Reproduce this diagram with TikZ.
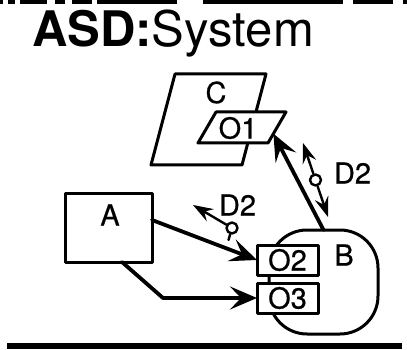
\documentclass[tikz,border=0pt]{standalone}
\usepackage{fontspec}
\setmainfont{TeX Gyre Heros}
\newfontfamily\lblfont[FakeBold=0.6]{TeX Gyre Heros}
\usetikzlibrary{arrows.meta,calc}
\begin{document}
\begin{tikzpicture}[x=1pt,y=-1pt,line join=round,line cap=round,
    box/.style={draw,line width=3pt,inner sep=0pt,outer sep=0pt},
    txt/.style={inner sep=0pt,font=\lblfont\fontsize{29}{31}\selectfont},
    big/.style={line width=3.8pt,-{Stealth[length=27pt,width=23pt,inset=11pt]}},
    flow/.style={line width=2.4pt,-{Stealth[length=20pt,width=14pt,inset=7pt]}},
    dot/.style={circle,draw,line width=2.4pt,minimum size=11pt,inner sep=0pt,fill=white}]
    \useasboundingbox (0,0) rectangle (407,350);
    % frame
    \foreach \s/\e in {0/3,8/15,20/47,55/65,72/92,97/177,203/343,353/393,403/407}
        \draw[line width=4pt,line cap=butt] (\s,2) -- (\e,2);
    \draw[line width=5.5pt,line cap=butt] (7,346) -- (402,346);
    \node[anchor=base west,inner sep=0pt,font=\fontsize{49}{51}\selectfont] (title) at (32,47) {\textbf{ASD:}System};
    % C with port O1
    \coordinate (C1) at (175,74);
    \coordinate (C2) at (266,74);
    \coordinate (C3) at (242,165);
    \coordinate (C4) at (151,165);
    \draw[line width=3pt] (C1) -- (C2) -- (C3) -- (C4) -- cycle;
    \node[txt] (C) at (216,92.5) {C};
    \coordinate (O1a) at (216,112);
    \coordinate (O1b) at (286,112);
    \coordinate (O1c) at (268,143);
    \coordinate (O1d) at (198,143);
    \draw[line width=3pt,fill=white] (O1a) -- (O1b) -- (O1c) -- (O1d) -- cycle;
    \coordinate (O1r) at ($(O1b)!.7!(O1c)$);
    \node[txt] (O1) at (238,128) {O1};
    % A
    \node[box,minimum width=87pt,minimum height=69pt] (A) at (108.5,227.5) {};
    \node[txt] (Alabel) at ([xshift=1.5pt,yshift=12.5pt]A.center) {A};
    % B with ports O2, O3
    \node[box,rounded corners=38pt,minimum width=109pt,minimum height=104pt] (B) at (323.5,282) {};
    \node[txt] (Blabel) at ([xshift=20.5pt,yshift=27pt]B.center) {B};
    \node[box,fill=white,minimum width=61pt,minimum height=30pt,txt] (O2) at (287.5,260) {O2};
    \node[box,fill=white,minimum width=61pt,minimum height=30pt,txt] (O3) at (287.5,298) {O3};
    % connectors
    \draw[big] ([yshift=7.5pt]A.east) -- (O2.west);
    \draw[big] ([xshift=13.5pt]A.south) -- ([xshift=-94pt]O3.west) -- (O3.west);
    \draw[big] (B.north) -- (O1r);
    % D2 flows
    \node[dot] (D2a) at (315.5,180) {};
    \coordinate (D2at) at (303,143);
    \coordinate (D2ab) at (328,217);
    \draw[flow] (D2a) -- (D2at);
    \draw[flow] (D2a) -- (D2ab);
    \node[txt] (D2alabel) at ([xshift=37pt,yshift=7pt]D2a.center) {D2};
    \node[dot] (D2b) at (232,228) {};
    \coordinate (D2bt) at (193,205);
    \coordinate (D2bs) at (228.5,240);
    \draw[flow] (D2b) -- (D2bt);
    \draw[line width=2.4pt] (D2b) -- (D2bs);
    \node[txt] (D2blabel) at ([xshift=5.5pt,yshift=23pt]D2b.center) {D2};
\end{tikzpicture}
\end{document}
